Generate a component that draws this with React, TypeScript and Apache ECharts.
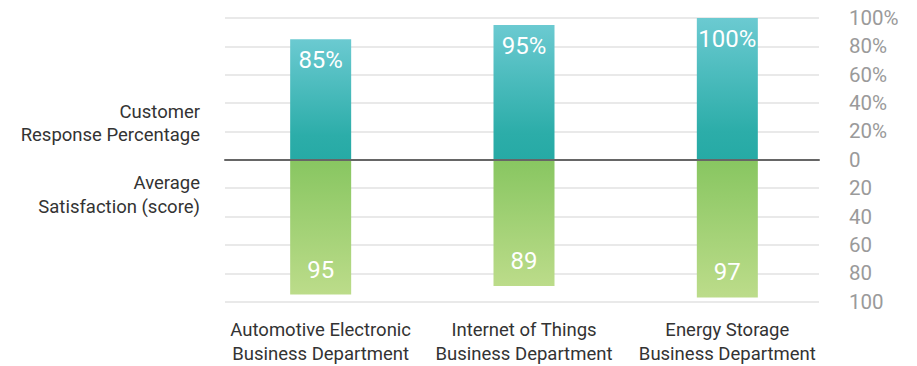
import React, { useEffect, useRef } from "react";
import * as echarts from "echarts";

const categories = [
  "Automotive Electronic\nBusiness Department",
  "Internet of Things\nBusiness Department",
  "Energy Storage\nBusiness Department",
];
const responsePercentage = [85, 95, 100];
const satisfactionScore = [95, 89, 97];
const leftLabels = ["Customer\nResponse Percentage", "Average\nSatisfaction (score)"];

const FONT = "Roboto, 'Noto Sans', sans-serif";

export default function App() {
  const ref = useRef<HTMLDivElement>(null);
  useEffect(() => {
    if (!ref.current) return;
    const chart = echarts.init(ref.current, null, { renderer: "svg" });
    const yFmt = (v: number) => (v > 0 ? v + "%" : v === 0 ? "0" : String(-v));
    chart.setOption({
      animation: false,
      textStyle: { fontFamily: FONT },
      grid: [
        { left: 225, right: 98, top: 18, bottom: 64.3 },
        { left: 219, right: 88, top: 18, bottom: 64.3 },
      ],
      xAxis: [
        {
          type: "category",
          gridIndex: 0,
          data: categories,
          axisLine: { show: true, onZero: true, lineStyle: { color: "#666", width: 2 } },
          axisTick: { show: false },
          axisLabel: { show: false },
          z: 5,
        },
        {
          type: "category",
          gridIndex: 1,
          data: categories,
          axisLine: { show: false, onZero: false },
          axisTick: { show: false },
          axisLabel: {
            color: "#333",
            fontSize: 18.5,
            lineHeight: 24,
            margin: 16,
            fontFamily: FONT,
            interval: 0,
          },
        },
      ],
      yAxis: [
        {
          type: "value",
          gridIndex: 0,
          position: "right",
          min: -100,
          max: 100,
          interval: 20,
          axisLine: { show: false },
          axisTick: { show: false },
          axisLabel: {
            formatter: yFmt,
            color: "#9a9a9a",
            fontSize: 20.5,
            margin: 30,
            fontFamily: FONT,
          },
          splitLine: { show: true, lineStyle: { color: "#e2e2e2", width: 1.5 } },
        },
        {
          type: "value",
          gridIndex: 1,
          min: -100,
          max: 100,
          interval: 20,
          show: false,
          splitLine: { show: false },
        },
      ],
      series: [
        {
          type: "bar",
          xAxisIndex: 1,
          yAxisIndex: 1,
          stack: "s",
          barWidth: 61,
          data: responsePercentage,
          itemStyle: {
            color: new echarts.graphic.LinearGradient(0, 0, 0, 1, [
              { offset: 0, color: "#6BCAD1" },
              { offset: 0.8, color: "#2CADA9" },
              { offset: 1, color: "#26AAA5" },
            ]),
          },
          label: {
            show: true,
            position: "insideTop",
            distance: 9,
            color: "#fff",
            fontSize: 24,
            fontFamily: FONT,
            formatter: (p: any) => p.value + "%",
          },
          z: 3,
        },
        {
          type: "bar",
          xAxisIndex: 1,
          yAxisIndex: 1,
          stack: "s",
          barWidth: 61,
          data: satisfactionScore.map((v) => -v),
          itemStyle: {
            color: new echarts.graphic.LinearGradient(0, 0, 0, 1, [
              { offset: 0, color: "#88C661" },
              { offset: 1, color: "#BCDC8A" },
            ]),
          },
          label: {
            show: true,
            position: "insideBottom",
            distance: 13,
            color: "#fff",
            fontSize: 24,
            fontFamily: FONT,
            formatter: (p: any) => String(-p.value),
          },
          z: 3,
        },
      ],
      graphic: [
        {
          type: "text",
          x: 200,
          y: 123.5,
          style: {
            text: leftLabels[0],
            fill: "#333",
            font: `18.5px ${FONT}`,
            lineHeight: 23.5,
            align: "right",
            verticalAlign: "middle",
          },
        },
        {
          type: "text",
          x: 200,
          y: 195,
          style: {
            text: leftLabels[1],
            fill: "#333",
            font: `18.5px ${FONT}`,
            lineHeight: 23.5,
            align: "right",
            verticalAlign: "middle",
          },
        },
      ],
    });
    return () => chart.dispose();
  }, []);
  return (
    <div
      ref={ref}
      style={{ position: "fixed", left: 0, top: 0, width: 917, height: 366, background: "#fff" }}
    />
  );
}
